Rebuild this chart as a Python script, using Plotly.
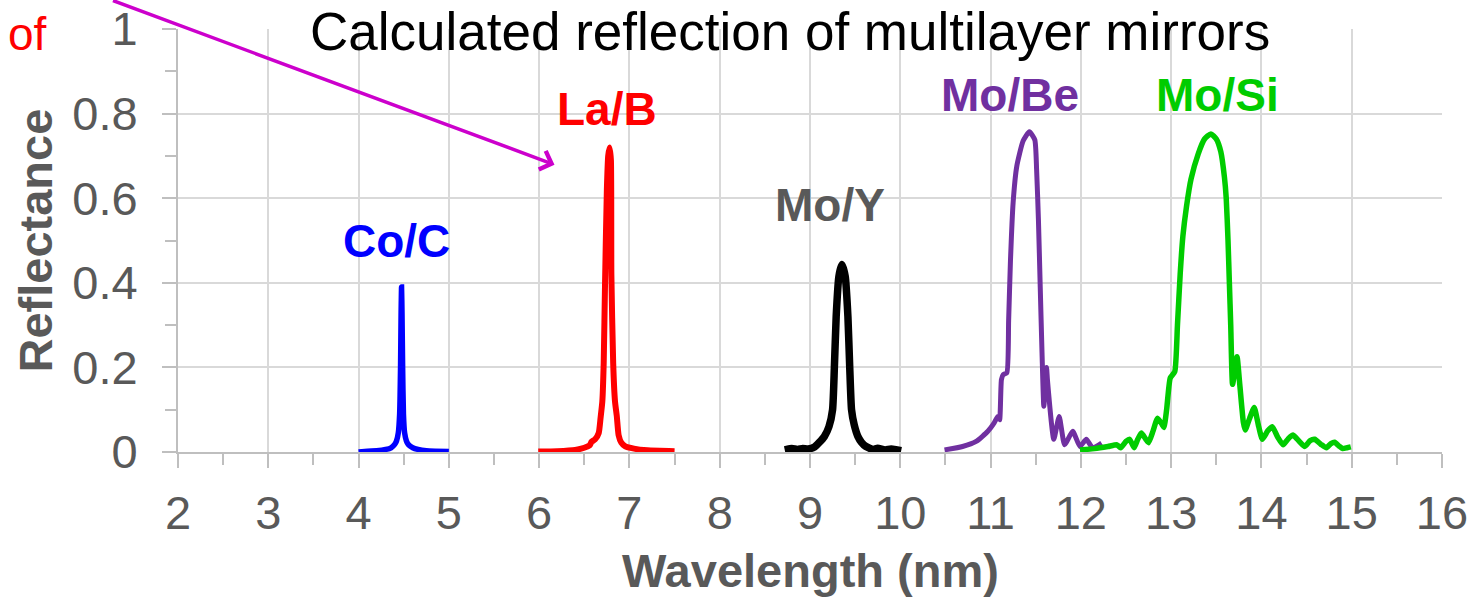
import plotly.graph_objects as go

# ---------------- data ----------------
coc_x = [4.00, 4.10, 4.20, 4.30, 4.36, 4.40, 4.42, 4.44, 4.455, 4.465, 4.471, 4.476,
         4.481, 4.488, 4.497, 4.51, 4.53, 4.55, 4.60, 4.66, 4.75, 4.85, 5.00]
coc_y = [0.000, 0.002, 0.003, 0.006, 0.010, 0.018, 0.026, 0.045, 0.09, 0.20, 0.33, 0.39,
         0.33, 0.20, 0.09, 0.045, 0.026, 0.018, 0.010, 0.006, 0.003, 0.002, 0.001]

lab_x = [5.99, 6.20, 6.40, 6.50, 6.56, 6.58, 6.62, 6.66, 6.68, 6.70, 6.715, 6.73, 6.75,
         6.765, 6.78, 6.795, 6.80, 6.82, 6.84, 6.86, 6.88, 6.91, 6.95, 7.05, 7.20, 7.50]
lab_y = [0.001, 0.002, 0.005, 0.010, 0.016, 0.024, 0.030, 0.045, 0.08, 0.12, 0.21, 0.40, 0.62,
         0.70, 0.72, 0.69, 0.42, 0.21, 0.12, 0.085, 0.04, 0.022, 0.014, 0.008, 0.004, 0.002]

moy_x = [8.72, 8.80, 8.86, 8.92, 8.98, 9.05, 9.10, 9.16, 9.21, 9.25, 9.27, 9.29, 9.32, 9.353,
         9.39, 9.42, 9.44, 9.46, 9.49, 9.53, 9.57, 9.62, 9.70, 9.75, 9.83, 9.90, 10.01]
moy_y = [0.005, 0.008, 0.006, 0.008, 0.007, 0.012, 0.022, 0.037, 0.06, 0.10, 0.20, 0.32, 0.415, 0.443,
         0.415, 0.32, 0.20, 0.10, 0.064, 0.037, 0.023, 0.013, 0.006, 0.009, 0.005, 0.007, 0.003]

mobe_x = [10.49, 10.69, 10.84, 10.97, 11.04, 11.08, 11.10, 11.12, 11.14, 11.18, 11.20, 11.22,
          11.25, 11.29, 11.36, 11.43, 11.49, 11.51, 11.53, 11.55, 11.57, 11.59, 11.62, 11.63,
          11.70, 11.76, 11.82, 11.91, 11.99, 12.06, 12.13, 12.23]
mobe_y = [0.005, 0.013, 0.025, 0.049, 0.069, 0.084, 0.076, 0.171, 0.183, 0.187, 0.31, 0.45,
          0.59, 0.675, 0.735, 0.757, 0.738, 0.667, 0.55, 0.39, 0.234, 0.108, 0.20, 0.17,
          0.03, 0.084, 0.017, 0.049, 0.013, 0.03, 0.01, 0.021]

mosi_x = [11.99, 12.15, 12.30, 12.40, 12.44, 12.50, 12.54, 12.59, 12.63, 12.67, 12.72, 12.75,
          12.80, 12.85, 12.90, 12.92, 12.95, 12.99, 13.04, 13.07, 13.10, 13.13, 13.17, 13.22,
          13.30, 13.37, 13.44, 13.50, 13.55, 13.59, 13.61, 13.63, 13.645, 13.66, 13.68, 13.705,
          13.73, 13.76, 13.80, 13.82, 13.87, 13.92, 13.97, 14.01, 14.07, 14.12, 14.18, 14.24,
          14.30, 14.35, 14.42, 14.48, 14.54, 14.59, 14.66, 14.72, 14.77, 14.81, 14.86, 14.90,
          14.95, 14.99]
mosi_y = [0.005, 0.008, 0.013, 0.017, 0.010, 0.025, 0.030, 0.010, 0.030, 0.045, 0.030, 0.022,
          0.050, 0.080, 0.065, 0.058, 0.10, 0.175, 0.19, 0.30, 0.42, 0.51, 0.58, 0.645,
          0.705, 0.74, 0.752, 0.74, 0.71, 0.65, 0.60, 0.50, 0.40, 0.30, 0.16, 0.19,
          0.225, 0.16, 0.07, 0.052, 0.08, 0.105, 0.06, 0.030, 0.05, 0.060, 0.035, 0.017,
          0.032, 0.040, 0.025, 0.013, 0.027, 0.030, 0.018, 0.010, 0.020, 0.023, 0.014, 0.008,
          0.010, 0.012]

labels = ["Co/C", "La/B", "Mo/Y", "Mo/Be", "Mo/Si"]
label_x = [4.42, 6.75, 9.22, 11.21, 13.51]
label_y = [0.50, 0.81, 0.585, 0.845, 0.845]
colors = ["#0000FF", "#FF0000", "#000000", "#7030A0", "#00CC00"]
label_colors = ["#0000FF", "#FF0000", "#595959", "#7030A0", "#00CC00"]
widths = [5.5, 6, 7.5, 5, 5.5]

x_ticks = list(range(2, 17))
y_ticks = [0, 0.2, 0.4, 0.6, 0.8, 1]
y_tick_text = ["0", "0.2", "0.4", "0.6", "0.8", "1"]

title_text = "Calculated reflection of multilayer mirrors"

# ---------------- figure ----------------
FONT = "Arial, Liberation Sans, sans-serif"
GRAY = "#595959"
L, R, T, B = 178, 31, 29, 146
PW, PH = 1473 - L - R, 598 - T - B


def px(xp):
    return (xp - L) / PW


def py(yp):
    return (598 - B - yp) / PH


fig = go.Figure()
series = [(coc_x, coc_y), (lab_x, lab_y), (moy_x, moy_y), (mobe_x, mobe_y), (mosi_x, mosi_y)]
for (xs, ys), c, w, name in zip(series, colors, widths, labels):
    fig.add_trace(go.Scatter(x=xs, y=ys, mode="lines", name=name,
                             line=dict(color=c, width=w, shape="spline", smoothing=0.5),
                             showlegend=False, cliponaxis=False))

for t, lx, ly, lc in zip(labels, label_x, label_y, label_colors):
    fig.add_annotation(x=lx, y=ly, text="<b>%s</b>" % t, showarrow=False,
                       font=dict(family=FONT, size=46, color=lc),
                       xanchor="center", yanchor="middle")

# title
fig.add_annotation(xref="paper", yref="paper", x=px(790), y=py(31),
                   text=title_text, showarrow=False,
                   font=dict(family=FONT, size=53, color="#000000"),
                   xanchor="center", yanchor="middle")
# clipped red fragment at top-left
fig.add_annotation(xref="paper", yref="paper", x=px(6), y=py(34),
                   text="of", showarrow=False,
                   font=dict(family=FONT, size=46, color="#FF0000"),
                   xanchor="left", yanchor="middle")
# axis titles
fig.add_annotation(xref="paper", yref="paper", x=px(35), y=0.5,
                   text="<b>Reflectance</b>", textangle=-90, showarrow=False,
                   font=dict(family=FONT, size=47, color=GRAY),
                   xanchor="center", yanchor="middle")
fig.add_annotation(xref="paper", yref="paper", x=px(810), y=py(570),
                   text="<b>Wavelength (nm)</b>", showarrow=False,
                   font=dict(family=FONT, size=47, color=GRAY),
                   xanchor="center", yanchor="middle")
# magenta arrow
fig.add_annotation(x=6.17, y=0.679, text="", showarrow=True, ax=-443, ay=-168,
                   arrowhead=4, arrowsize=1.1, arrowwidth=3.5, arrowcolor="#CC00CC",
                   standoff=0)

fig.update_layout(
    width=1473, height=598,
    margin=dict(l=L, r=R, t=T, b=B, autoexpand=False),
    plot_bgcolor="white", paper_bgcolor="white",
    font=dict(family=FONT, color=GRAY),
)
fig.update_xaxes(range=[2, 16], tickvals=x_ticks, ticktext=[str(v) for v in x_ticks],
                 showgrid=True, gridcolor="#D9D9D9", gridwidth=2,
                 showline=True, linecolor="#BFBFBF", linewidth=2,
                 ticks="outside", ticklen=14, tickwidth=2, tickcolor="#BFBFBF",
                 tickfont=dict(family=FONT, size=47, color=GRAY),
                 ticklabelstandoff=5, automargin=False,
                 minor=dict(dtick=0.5, ticks="outside", ticklen=11, tickwidth=2,
                            tickcolor="#BFBFBF", showgrid=False),
                 zeroline=False, fixedrange=True)
fig.update_yaxes(range=[0, 1], tickvals=y_ticks, ticktext=y_tick_text,
                 showgrid=True, gridcolor="#D9D9D9", gridwidth=2,
                 showline=True, linecolor="#BFBFBF", linewidth=2,
                 ticks="outside", ticklen=14, tickwidth=2, tickcolor="#BFBFBF",
                 tickfont=dict(family=FONT, size=47, color=GRAY),
                 ticklabelstandoff=15, automargin=False,
                 minor=dict(dtick=0.1, ticks="outside", ticklen=11, tickwidth=2,
                            tickcolor="#BFBFBF", showgrid=False),
                 zeroline=False, fixedrange=True)

fig.write_html("out.html")
